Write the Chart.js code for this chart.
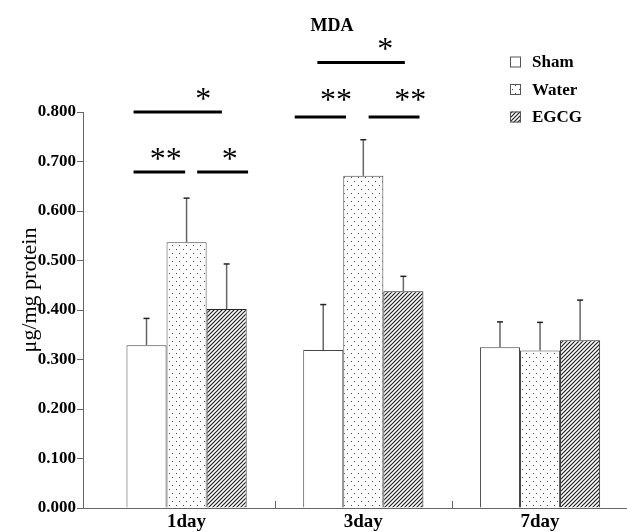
<!DOCTYPE html>
<html lang="en">
<head>
  <meta charset="UTF-8">
  <title>MDA</title>
  <style>
    html, body { margin: 0; padding: 0; background: #fff; }
    #wrap { width: 627px; height: 532px; }
  </style>
</head>
<body>
  <div id="wrap"><canvas id="chart" width="627" height="532"></canvas></div>
  <script src="https://cdn.jsdelivr.net/npm/chart.js@4.4.1/dist/chart.umd.min.js"></script>
  <script>
    const days = ['1day', '3day', '7day'];
    const groups = ['Sham', 'Water', 'EGCG'];
    const sham = [0.329, 0.319, 0.325];
    const water = [0.537, 0.671, 0.318];
    const egcg = [0.402, 0.438, 0.339];
    const shamSd = [0.054, 0.092, 0.051];
    const waterSd = [0.089, 0.073, 0.057];
    const egcgSd = [0.091, 0.030, 0.081];
    const yTicks = [0, 0.1, 0.2, 0.3, 0.4, 0.5, 0.6, 0.7, 0.8];

    // significance lines: x in day index units, y in µg/mg protein
    const brackets = [
      { from: -0.300, to: 0.200, y: 0.800, label: '*', lx: 0.095, ly: 0.840 },
      { from: -0.300, to: -0.008, y: 0.679, label: '**', lx: -0.118, ly: 0.719 },
      { from: 0.060, to: 0.348, y: 0.679, label: '*', lx: 0.245, ly: 0.719 },
      { from: 0.740, to: 1.235, y: 0.900, label: '*', lx: 1.124, ly: 0.941 },
      { from: 0.612, to: 0.902, y: 0.790, label: '**', lx: 0.845, ly: 0.837 },
      { from: 1.030, to: 1.318, y: 0.790, label: '**', lx: 1.265, ly: 0.837 }
    ];

    const serif = '"Liberation Serif", "DejaVu Serif", serif';

    function dots() {
      const c = document.createElement('canvas');
      c.width = 7; c.height = 8;
      const g = c.getContext('2d');
      g.fillStyle = '#fff';
      g.fillRect(0, 0, 7, 8);
      g.fillStyle = '#444';
      g.fillRect(1, 1, 1, 1);
      g.fillRect(4, 5, 1, 1);
      return g.createPattern(c, 'repeat');
    }

    function hatch() {
      const c = document.createElement('canvas');
      c.width = 4; c.height = 4;
      const g = c.getContext('2d');
      g.fillStyle = '#fff';
      g.fillRect(0, 0, 4, 4);
      g.strokeStyle = '#222';
      g.lineWidth = 1.2;
      g.beginPath();
      g.moveTo(0, 4); g.lineTo(4, 0);
      g.moveTo(-1, 1); g.lineTo(1, -1);
      g.moveTo(3, 5); g.lineTo(5, 3);
      g.stroke();
      return g.createPattern(c, 'repeat');
    }

    const toPoints = (arr) => arr.map((v, i) => ({ x: i, y: v }));

    const extras = {
      id: 'extras',
      afterDatasetsDraw(chart) {
        const { ctx, scales: { x, y } } = chart;
        ctx.save();
        // error bars (upper only)
        chart.data.datasets.forEach((ds, i) => {
          chart.getDatasetMeta(i).data.forEach((bar, j) => {
            const top = y.getPixelForValue(ds.data[j].y + ds.sd[j]);
            ctx.strokeStyle = '#666';
            ctx.lineWidth = 1.5;
            ctx.beginPath();
            ctx.moveTo(bar.x, bar.y);
            ctx.lineTo(bar.x, top);
            ctx.stroke();
            ctx.strokeStyle = '#222';
            ctx.beginPath();
            ctx.moveTo(bar.x - 3, top);
            ctx.lineTo(bar.x + 3, top);
            ctx.stroke();
          });
        });
        // small ticks between days
        ctx.strokeStyle = '#666';
        ctx.lineWidth = 1;
        [0.5, 1.5].forEach((v) => {
          const px = Math.round(x.getPixelForValue(v)) + 0.5;
          ctx.beginPath();
          ctx.moveTo(px, y.bottom);
          ctx.lineTo(px, y.bottom - 7);
          ctx.stroke();
        });
        // significance
        ctx.strokeStyle = '#000';
        ctx.fillStyle = '#000';
        ctx.lineWidth = 3;
        ctx.font = '32px ' + serif;
        ctx.textAlign = 'center';
        ctx.textBaseline = 'middle';
        brackets.forEach((b) => {
          const py = y.getPixelForValue(b.y);
          ctx.beginPath();
          ctx.moveTo(x.getPixelForValue(b.from), py);
          ctx.lineTo(x.getPixelForValue(b.to), py);
          ctx.stroke();
          ctx.fillText(b.label, x.getPixelForValue(b.lx), y.getPixelForValue(b.ly) + 8);
        });
        // title
        ctx.font = 'bold 18px ' + serif;
        ctx.fillText('MDA', 332, 26);
        // y axis title
        ctx.save();
        ctx.translate(30, 290);
        ctx.rotate(-Math.PI / 2);
        ctx.font = '22px ' + serif;
        ctx.fillText('μg/mg protein', 0, 0);
        ctx.restore();
        // legend
        ctx.font = 'bold 17px ' + serif;
        ctx.textAlign = 'left';
        chart.data.datasets.forEach((ds, i) => {
          const cy = 62 + i * 27.5;
          ctx.fillStyle = ds.backgroundColor;
          ctx.fillRect(510, cy - 5.5, 11, 11);
          ctx.strokeStyle = '#555';
          ctx.lineWidth = 1;
          ctx.strokeRect(510.5, cy - 5, 10, 10);
          ctx.fillStyle = '#000';
          ctx.fillText(ds.label, 532, cy + 1);
        });
        ctx.restore();
      }
    };

    new Chart(document.getElementById('chart'), {
      type: 'bar',
      data: {
        datasets: [
          { label: groups[0], data: toPoints(sham), sd: shamSd, backgroundColor: '#fff', borderColor: '#444', borderWidth: 1 },
          { label: groups[1], data: toPoints(water), sd: waterSd, backgroundColor: dots(), borderColor: '#444', borderWidth: 1 },
          { label: groups[2], data: toPoints(egcg), sd: egcgSd, backgroundColor: hatch(), borderColor: '#222', borderWidth: 1 }
        ]
      },
      options: {
        responsive: false,
        animation: false,
        categoryPercentage: 0.68,
        barPercentage: 1.0,
        layout: { padding: { top: 112, right: 0, left: 0, bottom: 0 } },
        plugins: { legend: { display: false }, tooltip: { enabled: false } },
        scales: {
          x: {
            type: 'linear',
            offset: false,
            min: -0.586,
            max: 2.492,
            afterBuildTicks: (scale) => { scale.ticks = days.map((d, i) => ({ value: i })); },
            afterFit: (scale) => { scale.height = 24; },
            ticks: {
              callback: (v) => days[v],
              color: '#000',
              padding: 3,
              maxRotation: 0,
              font: { family: serif, size: 19, weight: 'bold' }
            },
            grid: { display: false, drawTicks: false },
            border: { color: '#666', width: 1 }
          },
          y: {
            min: 0,
            max: 0.8,
            afterBuildTicks: (scale) => { scale.ticks = yTicks.map((v) => ({ value: v })); },
            afterFit: (scale) => { scale.width = 83; },
            ticks: {
              callback: (v) => v.toFixed(3),
              color: '#000',
              padding: 1,
              font: { family: serif, size: 17, weight: 'bold' }
            },
            grid: { drawOnChartArea: false, tickLength: 6, color: '#666' },
            border: { color: '#666', width: 1 }
          }
        }
      },
      plugins: [extras]
    });
  </script>
</body>
</html>
